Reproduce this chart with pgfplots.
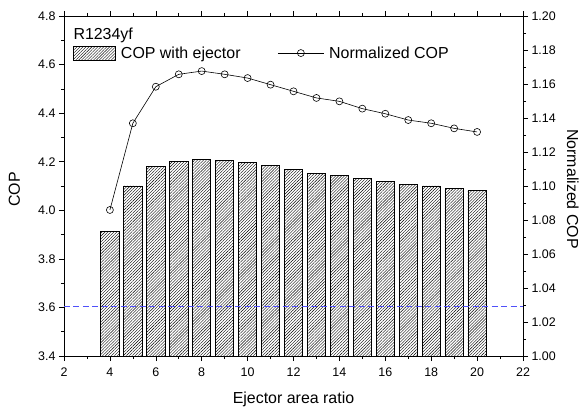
\documentclass[border=0pt]{standalone}
\usepackage{pgfplots}
\pgfplotsset{compat=1.18}
\usepackage{fontspec}
\setmainfont{Liberation Sans}
\usetikzlibrary{patterns.meta}
\definecolor{dashblue}{RGB}{80,80,250}
\pgfplotsset{
  barlegend/.style={legend image code/.code={\draw[##1] (0bp,-7bp) rectangle (42bp,7bp);}},
  linelegend/.style={legend image code/.code={\draw[mark repeat=2,mark phase=2,##1] plot coordinates {(0bp,0bp) (23bp,0bp) (46bp,0bp)};}},
}
\begin{document}
\begin{tikzpicture}
\useasboundingbox (-64bp,-52bp) rectangle (515bp,356bp);
\pgfplotsset{
  common/.style={
    scale only axis, width=459bp, height=340bp,
    xmin=2, xmax=22,
    tick align=outside,
    major tick length=5bp, minor tick length=3bp,
    every tick/.style={black, line width=0.6pt},
    axis line style={line width=0.8pt},
    label style={font=\fontsize{16}{19}\selectfont},
    tick label style={font=\fontsize{12.5}{15}\selectfont},
    /pgf/number format/assume math mode=true,
  }
}
\begin{axis}[common,
  ymin=3.4, ymax=4.8,
  xtick={2,4,...,22}, minor x tick num=1,
  ytick={3.4,3.6,...,4.8}, minor y tick num=1,
  ytick pos=left,
  xticklabel style={yshift=-3bp},
  yticklabel style={/pgf/number format/.cd, fixed, fixed zerofill, precision=1},
  xlabel={Ejector area ratio}, ylabel={COP},
  xlabel style={at={(axis description cs:0.5,-0.141)}, anchor=base},
  ylabel style={at={(axis description cs:-0.0959,0.49)}, anchor=base},
  legend columns=2,
  legend style={draw=none, fill=none, inner sep=0pt, at={(axis description cs:0.0196,0.891)}, anchor=west,
    font=\fontsize{16}{19}\selectfont, nodes={inner sep=0pt},
    /tikz/every odd column/.append style={column sep=5bp},
    /tikz/every even column/.append style={column sep=37bp}},
]
\addplot[ybar, bar width=0.8, draw=black, line width=0.8pt,
  pattern={Lines[angle=45,distance=2.1pt,line width=0.4pt]}, forget plot] coordinates {
(4,3.912) (5,4.100) (6,4.179) (7,4.201) (8,4.209) (9,4.204) (10,4.197) (11,4.183) (12,4.168)
(13,4.152) (14,4.144) (15,4.131) (16,4.119) (17,4.105) (18,4.100) (19,4.089) (20,4.082)};
\addplot[dashblue, dash pattern=on 6bp off 3.5bp, line width=1bp, forget plot] coordinates {(2,3.605) (22,3.605)};
\addlegendimage{draw=black, line width=0.8pt, pattern={Lines[angle=45,distance=2.1pt,line width=0.4pt]}, barlegend}
\addlegendentry{COP with ejector}
\addlegendimage{black, line width=0.6pt, mark=o, mark size=3.5bp, mark options={fill=white}, linelegend}
\addlegendentry{Normalized COP}
\node[anchor=base west, inner sep=0pt, font=\fontsize{16}{19}\selectfont] at (axis description cs:0.0203,0.9315) {R1234yf};
\end{axis}
\begin{axis}[common,
  ymin=1.0, ymax=1.2,
  axis y line*=right, axis x line=none,
  ytick={1.00,1.02,...,1.20}, minor y tick num=1,
  yticklabel style={/pgf/number format/.cd, fixed, fixed zerofill, precision=2},
  ylabel={Normalized COP},
  ylabel style={rotate=180, at={(axis description cs:1.0959,0.491)}, anchor=base},
]
\addplot[black, line width=0.6pt, mark=o, mark size=3.5bp, mark options={fill=white}] coordinates {
(4,1.0859) (5,1.1369) (6,1.1584) (7,1.1657) (8,1.1676) (9,1.1657) (10,1.1635) (11,1.1596) (12,1.1557)
(13,1.1518) (14,1.1498) (15,1.1455) (16,1.1425) (17,1.1388) (18,1.1369) (19,1.1339) (20,1.1318)};
\end{axis}
\end{tikzpicture}
\end{document}
